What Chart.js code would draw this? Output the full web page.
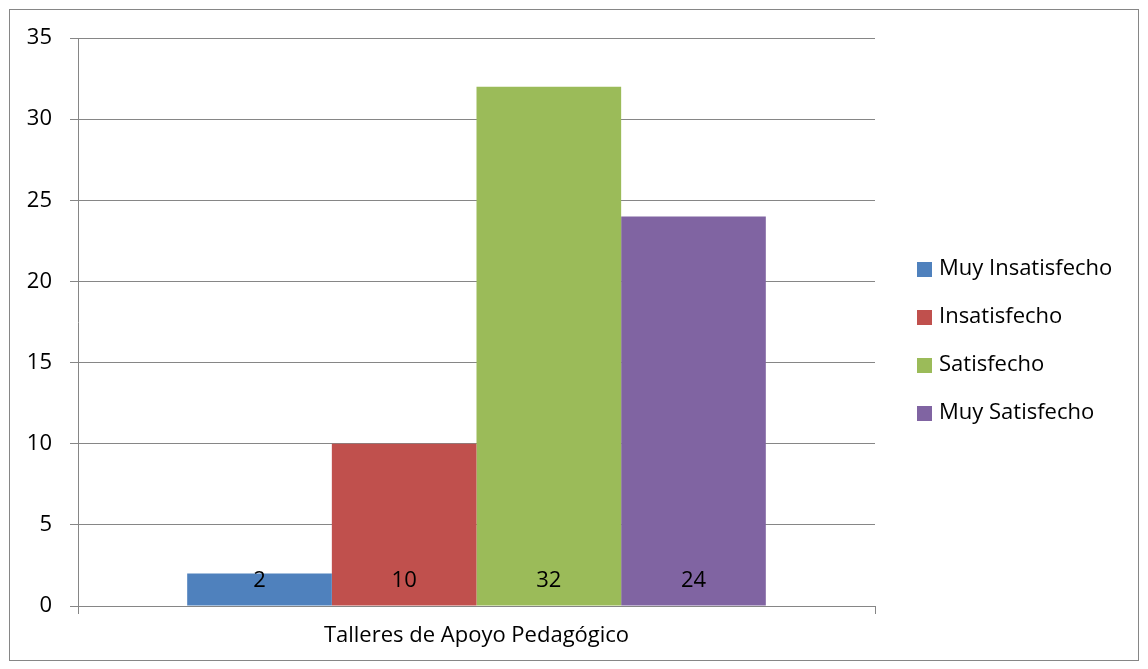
<!DOCTYPE html>
<html>
<head>
<meta charset="utf-8">
<script src="https://cdn.jsdelivr.net/npm/chart.js@4"></script>
<style>
  html, body { margin:0; padding:0; background:#fff; }
  #wrap { position:absolute; left:0; top:0; width:1148px; height:669px; }
</style>
</head>
<body>
<div id="wrap"><canvas id="chart" width="1148" height="669"></canvas></div>
<script>
// chart data
const categories = ['Talleres de Apoyo Pedagógico'];
const seriesNames = ['Muy Insatisfecho', 'Insatisfecho', 'Satisfecho', 'Muy Satisfecho'];
const seriesValues = [[2], [10], [32], [24]];
const seriesColors = ['#4F81BD', '#C0504D', '#9BBB59', '#8064A2'];
const yTicks = [0, 5, 10, 15, 20, 25, 30, 35];

const FONT = "'Open Sans', 'Noto Sans', sans-serif";
const FSIZE = 22;
const GRID = '#868686';

// outer frame + value labels at bar bases + legend on the right
const decor = {
  id: 'decor',
  afterDatasetsDraw(chart) {
    const ctx = chart.ctx;
    const yScale = chart.scales.y;
    ctx.save();
    ctx.font = FSIZE + 'px ' + FONT;
    ctx.fillStyle = '#000';
    ctx.textAlign = 'center';
    ctx.textBaseline = 'middle';
    chart.data.datasets.forEach((ds, i) => {
      chart.getDatasetMeta(i).data.forEach((bar, j) => {
        ctx.fillText(String(ds.data[j]), bar.x, yScale.getPixelForValue(0) - 25);
      });
    });
    ctx.restore();
  },
  afterDraw(chart) {
    const ctx = chart.ctx;
    ctx.save();
    ctx.strokeStyle = GRID;
    ctx.lineWidth = 1;
    ctx.strokeRect(9.5, 9.5, 1129, 651);
    ctx.font = FSIZE + 'px ' + FONT;
    ctx.textAlign = 'left';
    ctx.textBaseline = 'middle';
    chart.data.datasets.forEach((ds, i) => {
      const y = 269 + i * 48;
      ctx.fillStyle = ds.backgroundColor;
      ctx.fillRect(917, y - 7, 15, 15);
      ctx.fillStyle = '#000';
      ctx.fillText(ds.label, 939, y);
    });
    ctx.restore();
  }
};

new Chart(document.getElementById('chart').getContext('2d'), {
  type: 'bar',
  data: {
    labels: categories,
    datasets: seriesNames.map((name, i) => ({
      label: name,
      data: seriesValues[i],
      backgroundColor: seriesColors[i],
      borderWidth: 0,
      categoryPercentage: 0.726,
      barPercentage: 1
    }))
  },
  options: {
    responsive: false,
    animation: false,
    layout: { padding: { top: 38, right: 273, left: 0, bottom: 0 } },
    plugins: { legend: { display: false }, tooltip: { enabled: false } },
    scales: {
      x: {
        afterFit: s => { s.height = 63; },
        grid: { drawOnChartArea: false, drawTicks: true, tickLength: 8, color: GRID },
        border: { color: GRID, width: 1 },
        ticks: { color: '#000', font: { family: FONT, size: FSIZE }, padding: 9 }
      },
      y: {
        min: 0, max: 35,
        afterFit: s => { s.width = 78; },
        afterBuildTicks: s => { s.ticks = yTicks.map(v => ({ value: v })); },
        grid: { color: GRID, drawTicks: true, tickLength: 8 },
        border: { color: GRID, width: 1 },
        ticks: { color: '#000', font: { family: FONT, size: FSIZE }, padding: 18 }
      }
    }
  },
  plugins: [decor]
});
</script>
</body>
</html>
